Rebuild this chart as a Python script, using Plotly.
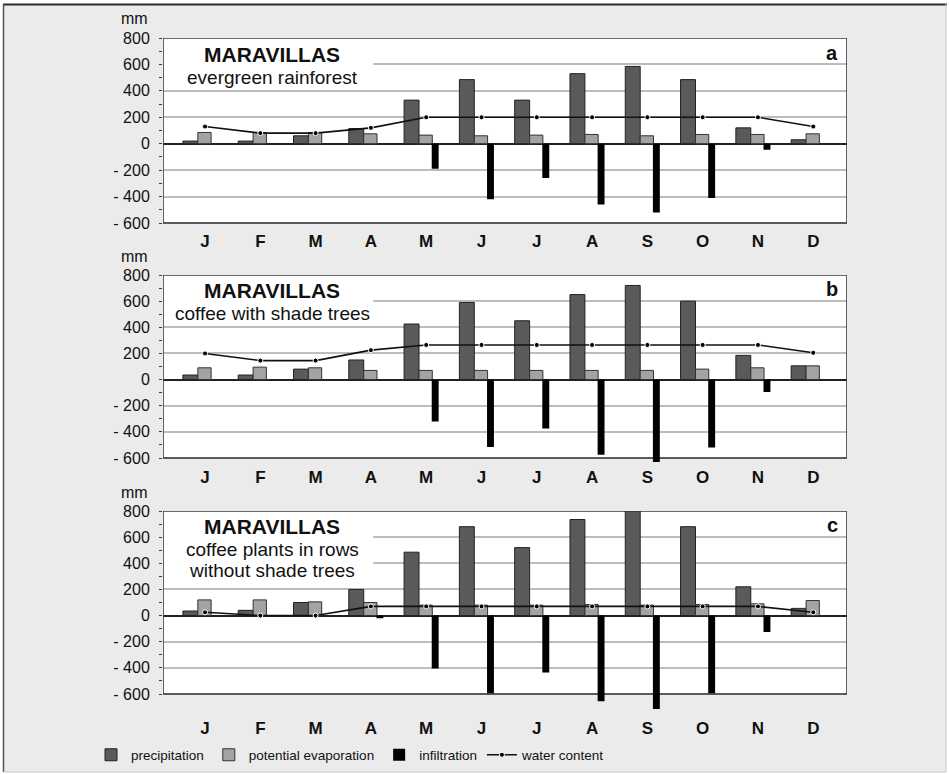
import plotly.graph_objects as go

W, H = 949, 774

months = ["J", "F", "M", "A", "M", "J", "J", "A", "S", "O", "N", "D"]
month_pos = list(range(12))

y_tickvals = [800, 600, 400, 200, 0, -200, -400, -600]
y_ticktext = ["800", "600", "400", "200", "0", "- 200", "- 400", "- 600"]
y_minor = [700, 500, 300, 100, -100, -300, -500]

# Panel a: evergreen rainforest
precip_a = [20, 20, 60, 115, 330, 485, 330, 530, 585, 485, 120, 30]
evap_a = [85, 85, 85, 75, 65, 60, 65, 70, 60, 70, 70, 75]
infil_a = [0, 0, 0, 0, -190, -420, -260, -460, -520, -410, -45, 0]
water_a = [130, 80, 80, 120, 200, 200, 200, 200, 200, 200, 200, 130]

# Panel b: coffee with shade trees
precip_b = [35, 35, 80, 150, 425, 590, 450, 650, 720, 600, 185, 105]
evap_b = [90, 95, 90, 70, 70, 70, 70, 70, 70, 80, 90, 105]
infil_b = [0, 0, 0, 0, -320, -515, -375, -575, -630, -520, -95, 0]
water_b = [200, 145, 145, 225, 265, 265, 265, 265, 265, 265, 265, 205]

# Panel c: coffee plants in rows without shade trees
precip_c = [35, 40, 100, 200, 485, 680, 520, 735, 800, 680, 220, 55]
evap_c = [120, 120, 105, 100, 80, 80, 80, 85, 80, 85, 90, 115]
infil_c = [0, 0, 0, -20, -405, -595, -435, -655, -715, -595, -125, 0]
water_c = [25, 0, 0, 70, 70, 70, 70, 70, 70, 70, 70, 25]

panels = [
    ("a", ["evergreen rainforest"], precip_a, evap_a, infil_a, water_a),
    ("b", ["coffee with shade trees"], precip_b, evap_b, infil_b, water_b),
    ("c", ["coffee plants in rows", "without shade trees"], precip_c, evap_c, infil_c, water_c),
]

FONT = "Liberation Sans, Arial, sans-serif"
C_PRECIP = "#5a5a5a"
C_EVAP = "#a3a3a3"
C_INFIL = "#000000"
AXIS_C = "#3a3a3a"
GRID_C = "#bdbdbd"

# layout geometry in pixels
plot_left, plot_right = 163, 847
panel_tops = [38, 275, 511]
panel_bottoms = [223, 458, 694]
month_label_y = [240, 476, 727]
XR = [-0.76, 11.61]
Y_LO, Y_HI, Y_EXT = -600, 800, -720


def fx(px):
    return px / W


def fy(py):
    return 1 - py / H


fig = go.Figure()
layout = dict(
    width=W, height=H,
    margin=dict(l=0, r=0, t=0, b=0),
    paper_bgcolor="#ffffff",
    plot_bgcolor="rgba(0,0,0,0)",
    font=dict(family=FONT, color="#111111"),
    barmode="overlay",
    showlegend=True,
    legend=dict(
        orientation="h", x=fx(91), y=fy(755), xanchor="left", yanchor="middle",
        font=dict(size=13.5, family=FONT, color="#111"), bgcolor="rgba(0,0,0,0)",
        traceorder="normal",
    ),
)
annotations = []
shapes = [
    # grey page
    dict(type="rect", xref="paper", yref="paper", x0=fx(4), x1=fx(946), y0=fy(772), y1=fy(5),
         fillcolor="#ebebeb", line=dict(width=0), layer="below"),
]

for i, (letter, sub, pr, ev, inf, wa) in enumerate(panels):
    n = "" if i == 0 else str(i + 1)
    xa, ya = "x" + n, "y" + n
    first = i == 0
    fig.add_trace(go.Bar(
        x=month_pos, y=pr, offset=-0.40, width=0.27, name="precipitation",
        marker=dict(color=C_PRECIP, line=dict(color="#222", width=1)),
        xaxis=xa, yaxis=ya, showlegend=first, legendgroup="p",
    ))
    fig.add_trace(go.Bar(
        x=month_pos, y=ev, offset=-0.13, width=0.24, name="potential evaporation",
        marker=dict(color=C_EVAP, line=dict(color="#333", width=1)),
        xaxis=xa, yaxis=ya, showlegend=first, legendgroup="e",
    ))
    fig.add_trace(go.Bar(
        x=month_pos, y=inf, offset=0.10, width=0.125, name="infiltration",
        marker=dict(color=C_INFIL, line=dict(width=0)),
        xaxis=xa, yaxis=ya, showlegend=first, legendgroup="i",
    ))
    fig.add_trace(go.Scatter(
        x=month_pos, y=wa, mode="lines+markers", name="water content",
        line=dict(color="#111", width=1.6),
        marker=dict(size=5, color="#000", line=dict(color="#fff", width=1)),
        xaxis=xa, yaxis=ya, showlegend=first, legendgroup="w",
    ))

    top, bot = panel_tops[i], panel_bottoms[i]
    px_per = (bot - top) / (Y_HI - Y_LO)
    bot_ext = bot + (Y_LO - Y_EXT) * px_per
    layout["xaxis" + n] = dict(
        domain=[fx(plot_left), fx(plot_right)], anchor="free",
        position=fy(month_label_y[i] - 11), range=XR,
        tickvals=month_pos, ticktext=months, ticks="", showgrid=False,
        zeroline=False, showline=False,
        tickfont=dict(size=17, family=FONT, color="#111", weight="bold"),
        ticklabelstandoff=0, automargin=False, fixedrange=True,
    )
    layout["yaxis" + n] = dict(
        domain=[fy(bot_ext), fy(top)], anchor=xa, range=[Y_EXT, Y_HI],
        tickmode="array", tickvals=y_tickvals, ticktext=y_ticktext,
        ticks="outside", ticklen=3, tickcolor=AXIS_C, tickwidth=1,
        minor=dict(tickmode="array", tickvals=y_minor, ticks="outside", ticklen=3,
                   tickcolor=AXIS_C, showgrid=False),
        showgrid=True, gridcolor=GRID_C, gridwidth=1.5,
        zeroline=True, zerolinecolor="#222", zerolinewidth=1.5,
        showline=False,
        tickfont=dict(size=16, family=FONT, color="#111"),
        ticklabelstandoff=6, automargin=False, fixedrange=True,
    )
    # white plot area
    shapes.append(dict(
        type="rect", xref=xa, yref=ya, x0=XR[0], x1=XR[1], y0=Y_LO, y1=Y_HI,
        fillcolor="#ffffff", line=dict(width=0), layer="below",
    ))
    # white box behind the panel title (hides gridlines)
    shapes.append(dict(
        type="rect", xref=xa, yref=ya, x0=XR[0], x1=3.04,
        y0=(480 if len(sub) == 1 else 280), y1=Y_HI,
        fillcolor="#ffffff", line=dict(width=0), layer="between",
    ))
    # plot frame
    shapes.append(dict(
        type="rect", xref=xa, yref=ya, x0=XR[0], x1=XR[1], y0=Y_LO, y1=Y_HI,
        fillcolor="rgba(0,0,0,0)", line=dict(color=AXIS_C, width=1.6), layer="between",
    ))
    # titles
    title_y = [54, 290, 526][i]
    annotations.append(dict(
        text="<b>MARAVILLAS</b>", x=fx(272), y=fy(title_y), xref="paper", yref="paper",
        showarrow=False, font=dict(size=21, family=FONT, color="#111"),
        xanchor="center", yanchor="middle",
    ))
    for k, line in enumerate(sub):
        annotations.append(dict(
            text=line, x=fx(272), y=fy(title_y + 23 + 21 * k), xref="paper", yref="paper",
            showarrow=False, font=dict(size=19, family=FONT, color="#111"),
            xanchor="center", yanchor="middle",
        ))
    annotations.append(dict(
        text="<b>%s</b>" % letter, x=fx(832), y=fy(title_y - 1), xref="paper", yref="paper",
        showarrow=False, font=dict(size=20, family=FONT, color="#111"),
        xanchor="center", yanchor="middle",
    ))
    annotations.append(dict(
        text="mm", x=fx(134), y=fy(top - 19), xref="paper", yref="paper",
        showarrow=False, font=dict(size=16, family=FONT, color="#111"),
        xanchor="center", yanchor="middle",
    ))

# outer frame of the figure
shapes.append(dict(type="line", xref="paper", yref="paper", x0=fx(3), x1=fx(947),
                   y0=fy(4.5), y1=fy(4.5), line=dict(color="#2a2a2a", width=2)))
shapes.append(dict(type="line", xref="paper", yref="paper", x0=fx(3.5), x1=fx(3.5),
                   y0=fy(4), y1=fy(772), line=dict(color="#555", width=1.5)))
shapes.append(dict(type="line", xref="paper", yref="paper", x0=fx(946), x1=fx(946),
                   y0=fy(4), y1=fy(772), line=dict(color="#c8c8c8", width=1)))
shapes.append(dict(type="line", xref="paper", yref="paper", x0=fx(3), x1=fx(946),
                   y0=fy(772), y1=fy(772), line=dict(color="#c8c8c8", width=1)))

layout["annotations"] = annotations
layout["shapes"] = shapes
fig.update_layout(**layout)

fig.write_html(
    "out.html",
    config=dict(displayModeBar=False),
    post_script="document.body.style.margin='0';document.body.style.overflow='hidden';",
)
